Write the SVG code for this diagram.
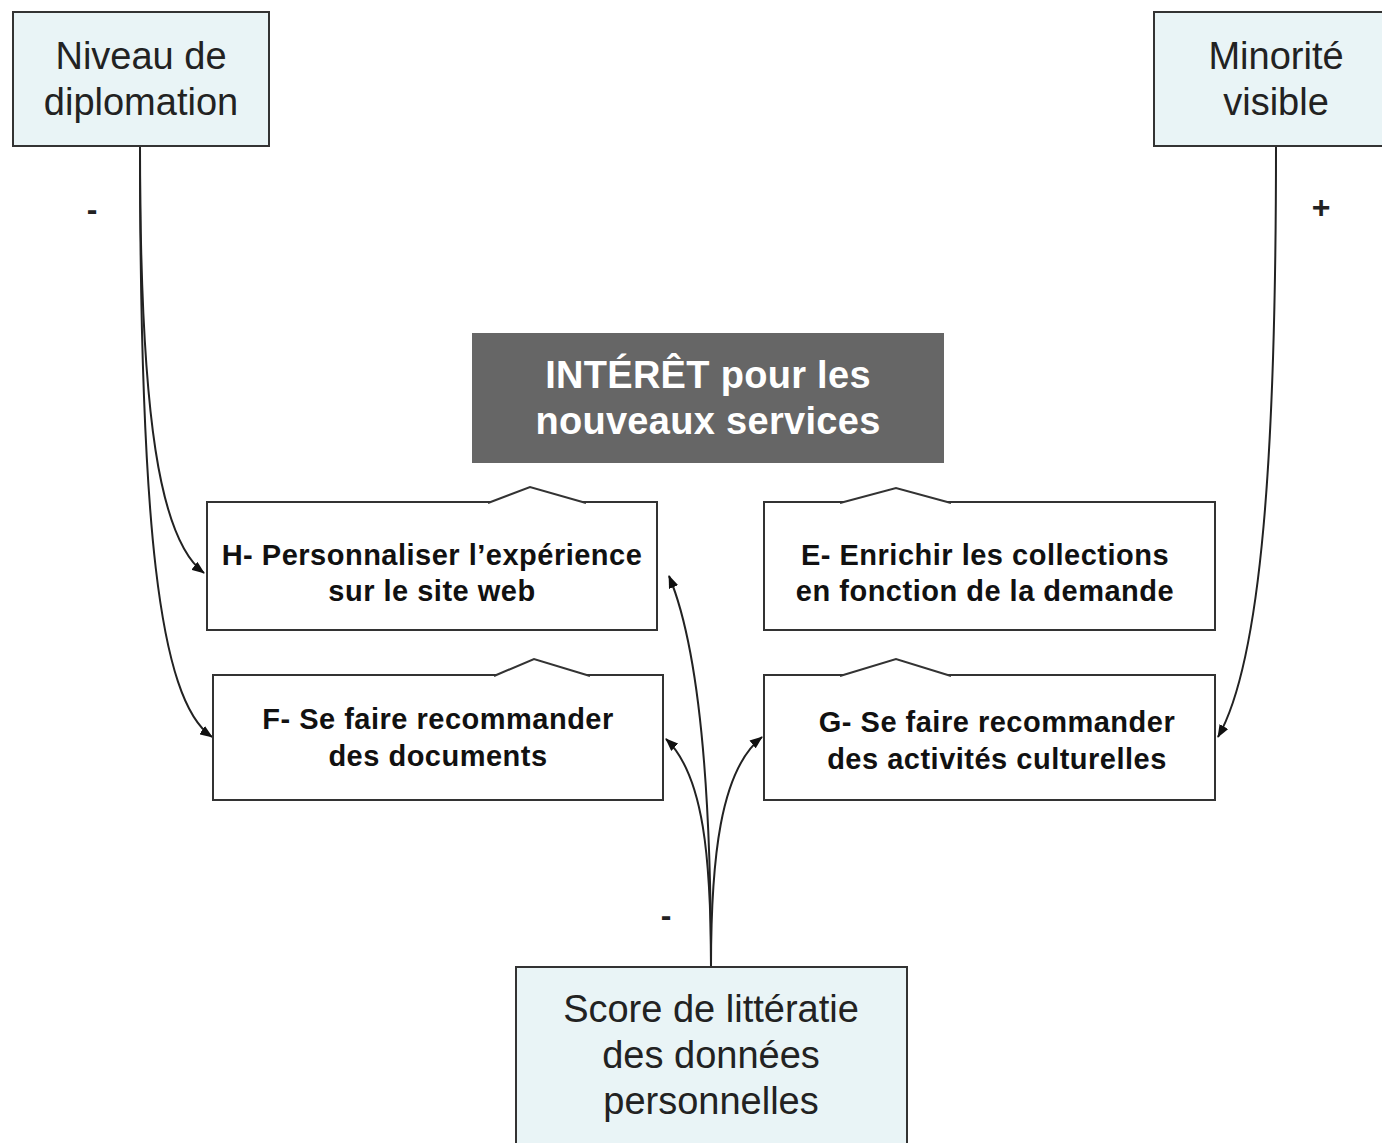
<svg xmlns="http://www.w3.org/2000/svg" width="1382" height="1143" viewBox="0 0 1382 1143">
<style>
.var{fill:#e9f4f6;stroke:#333;stroke-width:2}
.svc{fill:#fff;stroke:#333;stroke-width:2}
.bump{fill:#fff;stroke:#333;stroke-width:2}
.vt{font-family:"Liberation Sans",Arial,sans-serif;font-size:38px;fill:#222;text-anchor:middle}
.st{font-family:"Liberation Sans",Arial,sans-serif;font-size:29px;font-weight:bold;fill:#111;text-anchor:middle;letter-spacing:0.5px}
.dt{font-family:"Liberation Sans",Arial,sans-serif;font-size:38px;font-weight:bold;fill:#fff;text-anchor:middle;letter-spacing:0.3px}
.lbl{font-family:"Liberation Sans",Arial,sans-serif;font-size:32px;font-weight:bold;fill:#222;text-anchor:middle}
.con{fill:none;stroke:#222;stroke-width:2}
</style>
<defs>
<marker id="arr" markerUnits="userSpaceOnUse" markerWidth="14" markerHeight="10" refX="12" refY="5" orient="auto">
<path d="M0,0 L13,5 L0,10 z" fill="#111"/>
</marker>
</defs>
<rect width="1382" height="1143" fill="#fff"/>
<g id="connectors">
<path class="con" d="M140,147 C 140,420 160,540 204,573" marker-end="url(#arr)"/>
<path class="con" d="M140,147 C 140,520 158,700 212,737" marker-end="url(#arr)"/>
<path class="con" d="M1276,147 C 1276,450 1262,660 1218,737" marker-end="url(#arr)"/>
<path class="con" d="M711,967 C 711,790 700,650 669,576" marker-end="url(#arr)"/>
<path class="con" d="M711,967 C 711,860 704,775 666,739" marker-end="url(#arr)"/>
<path class="con" d="M711,967 C 711,860 720,770 762,737" marker-end="url(#arr)"/>
<text class="lbl" x="92" y="220">-</text>
<text class="lbl" x="1321" y="218">+</text>
<text class="lbl" x="666" y="926">-</text>
</g>
<g id="niveau">
<rect class="var" x="13" y="12" width="256" height="134"/>
<text class="vt" x="141" y="69">Niveau de</text>
<text class="vt" x="141" y="115">diplomation</text>
</g>
<g id="minorite">
<rect class="var" x="1154" y="12" width="240" height="134"/>
<text class="vt" x="1276" y="69">Minorité</text>
<text class="vt" x="1276" y="115">visible</text>
</g>
<g id="interet">
<rect x="472" y="333" width="472" height="130" fill="#666"/>
<text class="dt" x="708" y="388">INTÉRÊT pour les</text>
<text class="dt" x="708" y="434">nouveaux services</text>
</g>
<g id="H">
<rect class="svc" x="207" y="502" width="450" height="128"/>
<path class="bump" d="M488,503 L530,487 L586,503"/>
<text class="st" x="432" y="565">H- Personnaliser l’expérience</text>
<text class="st" x="432" y="601">sur le site web</text>
</g>
<g id="F">
<rect class="svc" x="213" y="675" width="450" height="125"/>
<path class="bump" d="M494,676 L534,659 L590,676"/>
<text class="st" x="438" y="729">F- Se faire recommander</text>
<text class="st" x="438" y="766">des documents</text>
</g>
<g id="E">
<rect class="svc" x="764" y="502" width="451" height="128"/>
<path class="bump" d="M840,503 L896,488 L951,503"/>
<text class="st" x="985" y="565">E- Enrichir les collections</text>
<text class="st" x="985" y="601">en fonction de la demande</text>
</g>
<g id="G">
<rect class="svc" x="764" y="675" width="451" height="125"/>
<path class="bump" d="M840,676 L896,659 L951,676"/>
<text class="st" x="997" y="732">G- Se faire recommander</text>
<text class="st" x="997" y="769">des activités culturelles</text>
</g>
<g id="score">
<rect class="var" x="516" y="967" width="391" height="190"/>
<text class="vt" x="711" y="1022">Score de littératie</text>
<text class="vt" x="711" y="1068">des données</text>
<text class="vt" x="711" y="1114">personnelles</text>
</g>
</svg>
